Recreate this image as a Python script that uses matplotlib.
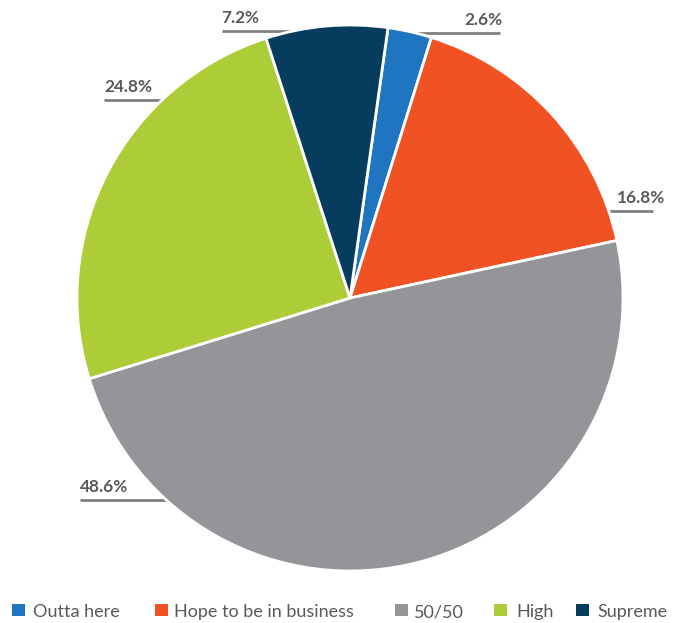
import matplotlib
matplotlib.use("Agg")
import matplotlib.pyplot as plt
from matplotlib.patches import Rectangle
import numpy as np

categories = ["Outta here", "Hope to be in business", "50/50", "High", "Supreme"]
shares = [2.6, 16.8, 48.6, 24.8, 7.2]
colors = ["#1f75c0", "#f05223", "#939598", "#accd37", "#063d5e"]
pct_labels = ["2.6%", "16.8%", "48.6%", "24.8%", "7.2%"]

# leader line placement (data units, pie radius = 1): y of underline, outer x end
leader_y = [0.97, 0.318, -0.74, 0.725, 0.978]
leader_x = [0.55, 1.11, -0.99, -0.90, -0.47]
label_dx = [0.01, 0.045, 0.0, 0.0, 0.0]

# legend entry positions in pixels from the left edge
legend_box_x = [12, 155, 395, 494, 576]
legend_text_x = [33, 174, 414, 516, 597]

text_color = "#58595b"
line_color = "#808080"

W, H = 684, 623
fig = plt.figure(figsize=(W / 100, H / 100), dpi=100)
ax = fig.add_axes([77 / W, 52 / H, 546 / W, 546 / H])

ax.pie(shares, colors=colors, startangle=82, counterclock=False,
       radius=1.0, wedgeprops=dict(edgecolor="white", linewidth=2))
ax.set_xlim(-1, 1)
ax.set_ylim(-1, 1)
ax.set_aspect("equal")
ax.set_axis_off()

for lab, y, xo, dx in zip(pct_labels, leader_y, leader_x, label_dx):
    xi = np.sign(xo) * np.sqrt(max(1 - y * y, 0))
    ax.plot([xi, xo], [y, y], color=line_color, lw=2, clip_on=False,
            solid_capstyle="butt", zorder=0)
    ha = "right" if xo > 0 else "left"
    ax.text(xo + dx, y + 0.02, lab, ha=ha, va="bottom", fontsize=12.4,
            fontweight="bold", color=text_color, family="Lato",
            clip_on=False)

# legend row along the bottom
for name, c, bx, tx in zip(categories, colors, legend_box_x, legend_text_x):
    fig.add_artist(Rectangle((bx / W, (H - 616) / H), 12.5 / W, 12.5 / H,
                             facecolor=c, edgecolor="none",
                             transform=fig.transFigure))
    fig.text(tx / W, (H - 617) / H, name, ha="left", va="baseline",
             fontsize=13, family="Lato", color=text_color)

fig.savefig("out.png", dpi=100)
